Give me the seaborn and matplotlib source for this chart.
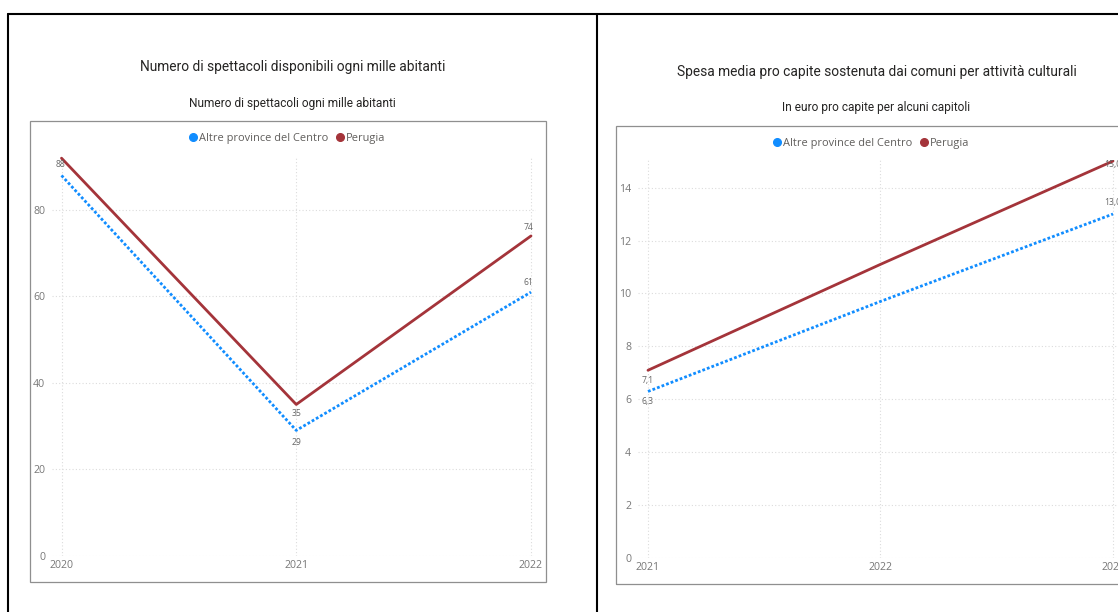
import matplotlib
matplotlib.use("Agg")
import matplotlib.pyplot as plt
import seaborn as sns
import pandas as pd
from matplotlib.lines import Line2D
from matplotlib.patches import Rectangle

# ---------------- data ----------------
series_names = ["Altre province del Centro", "Perugia"]

left_years = [2020, 2021, 2022]
left_altre = [88, 29, 61]
left_perugia = [92, 35, 74]
left_altre_show = [True, True, True]
left_perugia_show = [False, True, True]
left_yticks = [0, 20, 40, 60, 80]

right_years = [2021, 2022, 2023]
right_altre = [6.3, 9.7, 13.0]
right_perugia = [7.1, 11.1, 15.0]
right_altre_show = [True, False, True]
right_perugia_show = [True, False, True]
right_yticks = [0, 2, 4, 6, 8, 10, 12, 14]

left_title = "Numero di spettacoli disponibili ogni mille abitanti"
left_subtitle = "Numero di spettacoli ogni mille abitanti"
right_title = "Spesa media pro capite sostenuta dai comuni per attività culturali"
right_subtitle = "In euro pro capite per alcuni capitoli"

# ---------------- style ----------------
W, H = 1118, 612
BLUE = "#118DFF"
RED = "#A4343A"
palette = {series_names[0]: BLUE, series_names[1]: RED}
dashes = {series_names[0]: (1.0, 0.75), series_names[1]: ""}
TITLE_FONT = ["Roboto", "DejaVu Sans"]
BODY_FONT = ["Open Sans", "DejaVu Sans"]

sns.set_style("white")
plt.rcParams["font.family"] = BODY_FONT

fig = plt.figure(figsize=(W / 100, H / 100), dpi=100)
fig.patch.set_facecolor("white")


def fx(px):
    return px / W


def fy(py):
    return 1 - py / H


# outer black frames
for (x0, y0, x1, y1) in [(8, 14, 8, 612), (8, 14, 1118, 14), (596.5, 14, 596.5, 612)]:
    fig.add_artist(Line2D([fx(x0), fx(x1)], [fy(y0), fy(y1)], color="black",
                          lw=1.5, transform=fig.transFigure))

# gray plot boxes
for (x0, y0, x1, y1) in [(30, 121, 546, 582), (616, 126, 1130, 584)]:
    fig.add_artist(Rectangle((fx(x0), fy(y1)), fx(x1) - fx(x0), fy(y0) - fy(y1),
                             fill=False, edgecolor="#8f8f8f", lw=0.9,
                             transform=fig.transFigure))


def make_panel(pos_px, xlim, ylim, years, altre, perugia, show_a, show_p,
               yticks, fmt, offs_a, offs_p):
    l, r, b, t = pos_px
    ax = fig.add_axes([fx(l), fy(b), fx(r) - fx(l), fy(t) - fy(b)])
    df = pd.DataFrame({
        "anno": years + years,
        "valore": altre + perugia,
        "serie": [series_names[0]] * len(years) + [series_names[1]] * len(years),
    })
    sns.lineplot(data=df, x="anno", y="valore", hue="serie", style="serie",
                 palette=palette, dashes=dashes, linewidth=2.0, ax=ax,
                 legend=False, estimator=None)
    ax.set_xlim(*xlim)
    ax.set_ylim(*ylim)
    ax.set_xticks(years)
    ax.set_xticklabels([str(y) for y in years])
    ax.set_yticks(yticks)
    ax.set_xlabel("")
    ax.set_ylabel("")
    for s in ax.spines.values():
        s.set_visible(False)
    ax.grid(True, color="#dcdcdc", linestyle=(0, (1, 2)), linewidth=0.8)
    ax.set_axisbelow(True)
    ax.tick_params(axis="both", length=0, colors="#777777", labelsize=7.6)
    ax.tick_params(axis="y", pad=5)
    ax.tick_params(axis="x", pad=3)
    ax.patch.set_alpha(0)
    for vals, shows, offs in [(altre, show_a, offs_a), (perugia, show_p, offs_p)]:
        for x, v, sh, off in zip(years, vals, shows, offs):
            if sh:
                ax.annotate(fmt(v), (x, v), xytext=off, textcoords="offset points",
                            ha="center", va="center", fontsize=6.2, color="#666666",
                            annotation_clip=False)
    return ax


# left panel
make_panel((52, 536, 555.7, 156),
           (2020 - 9.5 / 234.7, 2022 + 5 / 234.7), (0, 92.5),
           left_years, left_altre, left_perugia, left_altre_show, left_perugia_show,
           left_yticks, lambda v: f"{v:.0f}",
           [(-0.5, 7.7), (0, -8.4), (-2, 7.2)],
           [(0, 7), (0, -6.7), (-2, 6.2)])

# right panel
make_panel((638, 1122, 558.3, 160),
           (2021 - 10 / 232.7, 2023 + 9 / 232.7), (0, 15.04),
           right_years, right_altre, right_perugia, right_altre_show, right_perugia_show,
           right_yticks, lambda v: f"{v:.1f}".replace(".", ","),
           [(0, -7.2), (0, 0), (0, 8)],
           [(0, -7.7), (0, 0), (0, -2.5)])

# titles
fig.text(fx(292.5), fy(67), left_title, ha="center", va="center",
         fontsize=9.9, color="#252423", family=TITLE_FONT)
fig.text(fx(292), fy(103), left_subtitle, ha="center", va="center",
         fontsize=8.6, color="#252423", family=TITLE_FONT)
fig.text(fx(876.5), fy(72), right_title, ha="center", va="center",
         fontsize=9.9, color="#252423", family=TITLE_FONT)
fig.text(fx(876.5), fy(107), right_subtitle, ha="center", va="center",
         fontsize=8.6, color="#252423", family=TITLE_FONT)

# legends
handles = [Line2D([], [], marker="o", linestyle="", color=palette[n], markersize=5.5)
           for n in series_names]
for cx, cy in [(286.5, 138), (870.5, 143)]:
    fig.legend(handles, series_names, loc="center", bbox_to_anchor=(fx(cx), fy(cy)),
               ncol=2, frameon=False, fontsize=7.9, labelcolor="#605E5C",
               handletextpad=0.1, columnspacing=0.5, handlelength=1.0,
               borderaxespad=0, borderpad=0)

fig.savefig("out.png", dpi=100, facecolor="white")
